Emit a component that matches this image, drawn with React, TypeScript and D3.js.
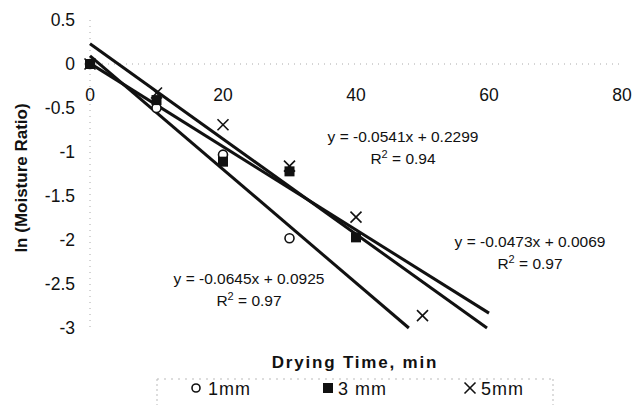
import React from 'react';
import * as d3 from 'd3';

const W = 634;
const H = 405;

const xTicks = [0, 20, 40, 60, 80];
const yTicks = [0.5, 0, -0.5, -1, -1.5, -2, -2.5, -3];

const time1 = [0, 10, 20, 30];
const val1 = [0, -0.5, -1.03, -1.98];
const time3 = [0, 10, 20, 30, 40];
const val3 = [0, -0.41, -1.11, -1.22, -1.97];
const time5 = [0, 10, 20, 30, 40, 50];
const val5 = [0, -0.33, -0.69, -1.16, -1.74, -2.86];

// trend lines: slope, intercept, end x
const fits = [
    { name: '1mm', slope: -0.0645, icpt: 0.0925, end: 60 },
    { name: '3mm', slope: -0.0473, icpt: 0.0069, end: 60 },
    { name: '5mm', slope: -0.0541, icpt: 0.2299, end: 60 }
];

const eqLabels = [
    { eq: 'y = -0.0541x + 0.2299', r2: '0.94', x: 403, y: 142 },
    { eq: 'y = -0.0473x + 0.0069', r2: '0.97', x: 530, y: 247 },
    { eq: 'y = -0.0645x + 0.0925', r2: '0.97', x: 249, y: 284 }
];

const x = d3.scaleLinear().domain([0, 80]).range([90, 622]);
const y = d3.scaleLinear().domain([-3, 0.5]).range([328, 20]);

const FONT = '"Liberation Sans", Arial, sans-serif';

function fitEnd(f) {
    const xAtMin = (-3 - f.icpt) / f.slope;
    return Math.min(f.end, xAtMin);
}

function Cross({ cx, cy, s }) {
    return (
        <g stroke="#111" strokeWidth={1.6}>
            <line x1={cx - s} y1={cy - s} x2={cx + s} y2={cy + s} />
            <line x1={cx - s} y1={cy + s} x2={cx + s} y2={cy - s} />
        </g>
    );
}

export default function App() {
    const line = d3.line().x(d => x(d[0])).y(d => y(d[1]));

    return (
        <div style={{ position: 'absolute', left: 0, top: 0 }}>
            <svg width={W} height={H} style={{ display: 'block', background: '#fff' }} fontFamily={FONT}>
                {/* axes */}
                <line x1={x(0)} y1={y(0.5)} x2={x(0)} y2={y(-3)} stroke="#aaa" strokeWidth={1} strokeDasharray="1,5" />
                <line x1={x(0)} y1={y(0)} x2={x(80)} y2={y(0)} stroke="#aaa" strokeWidth={1} strokeDasharray="1,5" />

                {yTicks.map(t => (
                    <text key={t} x={75} y={y(t) + 6} textAnchor="end" fontSize={17.5} fill="#111">{t}</text>
                ))}
                {xTicks.map(t => (
                    <text key={t} x={x(t)} y={101} textAnchor="middle" fontSize={17.5} fill="#111">{t}</text>
                ))}

                {/* trend lines */}
                {fits.map(f => {
                    const e = fitEnd(f);
                    return (
                        <path key={f.name} d={line([[0, f.icpt], [e, f.icpt + f.slope * e]])}
                            fill="none" stroke="#111" strokeWidth={3} />
                    );
                })}

                {/* markers */}
                {time1.map((t, i) => (
                    <circle key={'c' + i} cx={x(t)} cy={y(val1[i])} r={4.5} fill="#fff" stroke="#111" strokeWidth={1.6} />
                ))}
                {time3.map((t, i) => (
                    <rect key={'s' + i} x={x(t) - 5} y={y(val3[i]) - 5} width={10} height={10} fill="#111" />
                ))}
                {time5.map((t, i) => (
                    <Cross key={'x' + i} cx={x(t)} cy={y(val5[i])} s={5.5} />
                ))}

                {/* equations */}
                {eqLabels.map((l, i) => (
                    <g key={i} fontSize={15.5} fill="#111" textAnchor="middle">
                        <text x={l.x} y={l.y}>{l.eq}</text>
                        <text x={l.x} y={l.y + 22}>
                            R<tspan dy={-6} fontSize={11}>2</tspan><tspan dy={6}> = {l.r2}</tspan>
                        </text>
                    </g>
                ))}

                {/* axis titles */}
                <text x={355} y={368} textAnchor="middle" fontSize={17} fontWeight="bold" letterSpacing={1.8} fill="#111">Drying Time, min</text>
                <text transform="translate(27,178) rotate(-90)" textAnchor="middle" fontSize={17} fontWeight="bold" fill="#111">ln (Moisture Ratio)</text>

                {/* legend */}
                <g>
                    <line x1={157} y1={379} x2={553} y2={379} stroke="#bbb" strokeDasharray="2,5" />
                    <line x1={157} y1={379} x2={157} y2={405} stroke="#bbb" strokeDasharray="2,3" />
                    <line x1={553} y1={379} x2={553} y2={405} stroke="#bbb" strokeDasharray="2,3" />
                    <circle cx={196} cy={388} r={4} fill="#fff" stroke="#111" strokeWidth={1.6} />
                    <text x={208} y={395} fontSize={18} letterSpacing={1} fill="#111">1mm</text>
                    <rect x={323} y={383} width={10} height={10} fill="#111" />
                    <text x={338} y={395} fontSize={18} letterSpacing={1} fill="#111">3 mm</text>
                    <Cross cx={470} cy={388} s={5.5} />
                    <text x={481} y={395} fontSize={18} letterSpacing={1} fill="#111">5mm</text>
                </g>
            </svg>
        </div>
    );
}
